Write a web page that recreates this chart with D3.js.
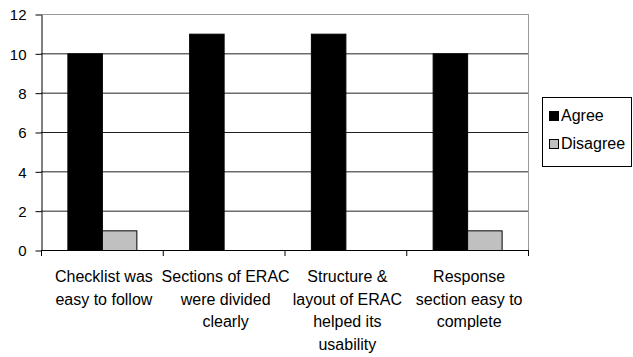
<!DOCTYPE html>
<html><head><meta charset="utf-8">
<script src="https://cdn.jsdelivr.net/npm/d3@7/dist/d3.min.js"></script>
<style>body{margin:0;background:#fff}svg{display:block}text{font-family:"Liberation Sans",Arial,sans-serif;fill:#000}</style>
</head><body><svg id="c" width="633" height="357"></svg>
<script>
const categories = [
  ["Checklist was", "easy to follow"],
  ["Sections of ERAC", "were divided", "clearly"],
  ["Structure &", "layout of ERAC", "helped its", "usability"],
  ["Response", "section easy to", "complete"]
];
const seriesNames = ["Agree", "Disagree"];
const agree = [10, 11, 11, 10];
const disagree = [1, 0, 0, 1];
const yTicks = [0, 2, 4, 6, 8, 10, 12];
const colors = {Agree: "#000000", Disagree: "#c0c0c0"};

const svg = d3.select("#c");
const L = 41, R = 528, T = 14, B = 250;
const ids = categories.map((c, i) => i);
const x0 = d3.scaleBand().domain(ids).range([L, R]).padding(0);
const x1 = d3.scaleBand().domain(seriesNames).range([0, x0.bandwidth()]).paddingInner(0).paddingOuter(0.765);
const y = d3.scaleLinear().domain([0, 12]).range([B, T]);

// gridlines
svg.append("g").selectAll("line").data(yTicks.filter(t => t > 0)).join("line")
  .attr("x1", L).attr("x2", R).attr("y1", d => y(d) + 0.5).attr("y2", d => y(d) + 0.5)
  .attr("stroke", d => d === 12 ? "#9a9a9a" : "#222").attr("stroke-width", 1);
// right border
svg.append("line").attr("x1", R + 0.5).attr("x2", R + 0.5).attr("y1", T).attr("y2", B)
  .attr("stroke", "#9a9a9a");

// bars
const data = ids.map(i => ({i, vals: [{k: "Agree", v: agree[i]}, {k: "Disagree", v: disagree[i]}]}));
const g = svg.append("g").selectAll("g").data(data).join("g")
  .attr("transform", d => `translate(${x0(d.i)},0)`);
g.selectAll("rect").data(d => d.vals.filter(e => e.v > 0)).join("rect")
  .attr("x", d => x1(d.k) + 0.5).attr("width", x1.bandwidth())
  .attr("y", d => y(d.v) + 0.5).attr("height", d => y(0) - y(d.v))
  .attr("fill", d => colors[d.k]).attr("stroke", "#000").attr("stroke-width", 1);

// y axis
const ya = svg.append("g").attr("transform", `translate(${L + 0.5},0.5)`)
  .call(d3.axisLeft(y).tickValues(yTicks).tickSize(6).tickPadding(9).tickSizeOuter(0));
ya.select(".domain").attr("stroke", "#000");
ya.selectAll("line").attr("stroke", "#000");
ya.selectAll("text").style("font-size", "15px").attr("fill", "#000").attr("dy", "0.36em");

// x axis ticks at band boundaries
const xa = svg.append("g");
xa.append("line").attr("x1", L).attr("x2", R + 1).attr("y1", B + 0.5).attr("y2", B + 0.5).attr("stroke", "#000");
xa.selectAll("line.t").data(ids.concat([ids.length])).join("line").attr("class", "t")
  .attr("x1", d => (d < ids.length ? x0(d) : R) + 0.5).attr("x2", d => (d < ids.length ? x0(d) : R) + 0.5)
  .attr("y1", B).attr("y2", B + 6).attr("stroke", "#000");

// x labels
const lab = svg.append("g").selectAll("text").data(ids).join("text")
  .attr("text-anchor", "middle").style("font-size", "16px")
  .attr("transform", d => `translate(${x0(d) + x0.bandwidth() / 2 + 2},282)`);
lab.selectAll("tspan").data(d => categories[d]).join("tspan")
  .attr("x", 0).attr("y", (d, j) => j * 22.7).text(d => d);

// legend
const lg = svg.append("g");
lg.append("rect").attr("x", 542.5).attr("y", 97.5).attr("width", 89).attr("height", 69)
  .attr("fill", "#fff").attr("stroke", "#000");
const li = lg.selectAll("g").data(seriesNames).join("g")
  .attr("transform", (d, i) => `translate(549,${111 + i * 28})`);
li.append("rect").attr("x", 0.5).attr("y", 0.5).attr("width", 9).attr("height", 9)
  .attr("fill", d => colors[d]).attr("stroke", "#000");
li.append("text").attr("x", 12).attr("y", 10).style("font-size", "16px").text(d => d);
</script></body></html>
